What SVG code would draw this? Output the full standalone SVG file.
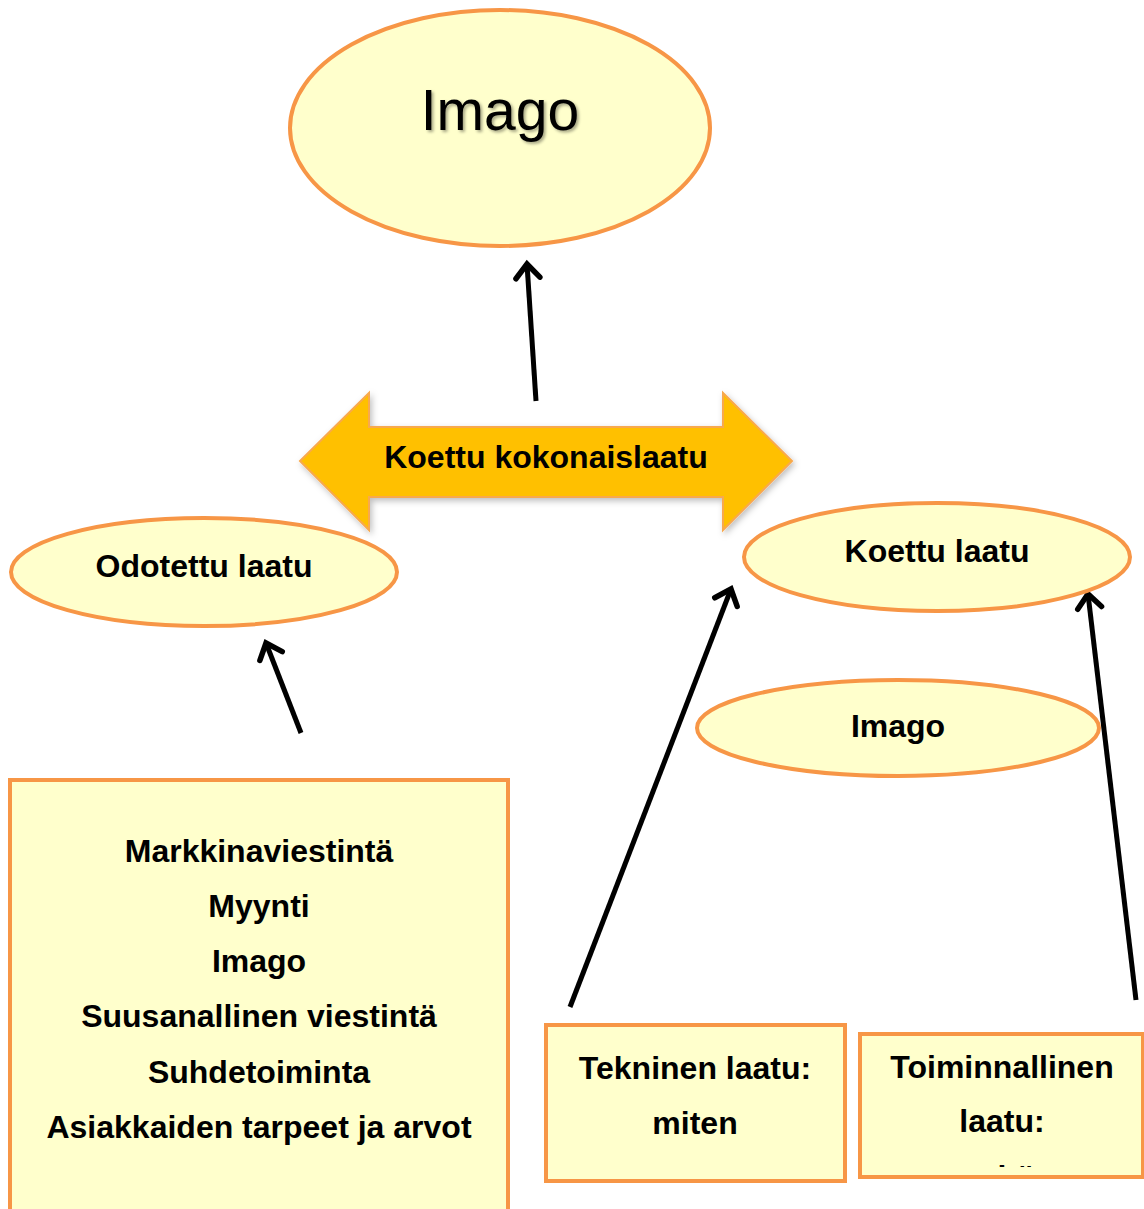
<svg xmlns="http://www.w3.org/2000/svg" width="1144" height="1209" viewBox="0 0 1144 1209">
<defs>
<style>
.shape{fill:#FFFFCC;stroke:#F79646;stroke-width:4}
.lbl{font-family:"Liberation Sans",Arial,sans-serif;font-weight:bold;font-size:32px;fill:#000;text-anchor:middle}
.conn{stroke:#000;stroke-width:5;fill:none;marker-end:url(#head)}
</style>
<marker id="head" viewBox="0 0 30 30" markerUnits="userSpaceOnUse" markerWidth="30" markerHeight="30" refX="22" refY="15" orient="auto" overflow="visible">
<path d="M8,3 L22,15 L8,27" fill="none" stroke="#000" stroke-width="5.5" stroke-linecap="round" stroke-linejoin="miter"/>
</marker>
<filter id="tshadow" x="-20%" y="-20%" width="140%" height="140%">
<feDropShadow dx="2" dy="2" stdDeviation="1.5" flood-color="#000" flood-opacity="0.35"/>
</filter>
<filter id="ashadow" x="-10%" y="-20%" width="120%" height="140%">
<feDropShadow dx="2" dy="3" stdDeviation="3" flood-color="#000" flood-opacity="0.25"/>
</filter>
<clipPath id="clipToim"><rect x="860" y="1034" width="283" height="133"/></clipPath>
</defs>
<rect width="1144" height="1209" fill="#fff"/>

<g id="connectors">
<line class="conn" x1="536" y1="401" x2="527" y2="264"/>
<line class="conn" x1="301" y1="733" x2="266" y2="643"/>
<line class="conn" x1="570" y1="1007" x2="731" y2="589"/>
<line class="conn" x1="1136" y1="1000" x2="1088" y2="594"/>
</g>

<g id="imago-top">
<ellipse class="shape" cx="500" cy="128" rx="210" ry="118"/>
<text x="500" y="130" font-family="Liberation Sans, Arial, sans-serif" font-size="57" text-anchor="middle" fill="#000" filter="url(#tshadow)">Imago</text>
</g>

<g id="koettu-kokonaislaatu">
<polygon points="300,461 369,393 369,427 723,427 723,393 792,461 723,530 723,497 369,497 369,530" fill="#FFC000" stroke="#F8A94E" stroke-width="2" filter="url(#ashadow)"/>
<text class="lbl" x="546" y="468">Koettu kokonaislaatu</text>
</g>

<g id="odotettu-laatu">
<ellipse class="shape" cx="204" cy="572" rx="193" ry="54"/>
<text class="lbl" x="204" y="577">Odotettu laatu</text>
</g>

<g id="koettu-laatu">
<ellipse class="shape" cx="937" cy="557" rx="193" ry="54"/>
<text class="lbl" x="937" y="562">Koettu laatu</text>
</g>

<g id="imago-mid">
<ellipse class="shape" cx="898" cy="728" rx="201" ry="48"/>
<text class="lbl" x="898" y="737">Imago</text>
</g>

<g id="odotettu-tekijat">
<rect class="shape" x="10" y="780" width="498" height="440"/>
<text class="lbl" x="259" y="862">Markkinaviestintä</text>
<text class="lbl" x="259" y="917">Myynti</text>
<text class="lbl" x="259" y="972">Imago</text>
<text class="lbl" x="259" y="1027">Suusanallinen viestintä</text>
<text class="lbl" x="259" y="1083">Suhdetoiminta</text>
<text class="lbl" x="259" y="1138">Asiakkaiden tarpeet ja arvot</text>
</g>

<g id="tekninen-laatu">
<rect class="shape" x="546" y="1025" width="299" height="156"/>
<text class="lbl" x="695" y="1079">Tekninen laatu:</text>
<text class="lbl" x="695" y="1134">miten</text>
</g>

<g id="toiminnallinen-laatu">
<rect class="shape" x="860" y="1034" width="283" height="143"/>
<text class="lbl" x="1002" y="1078">Toiminnallinen</text>
<text class="lbl" x="1002" y="1132">laatu:</text>
<text class="lbl" x="1002" y="1188" clip-path="url(#clipToim)">mitä</text>
</g>
</svg>
